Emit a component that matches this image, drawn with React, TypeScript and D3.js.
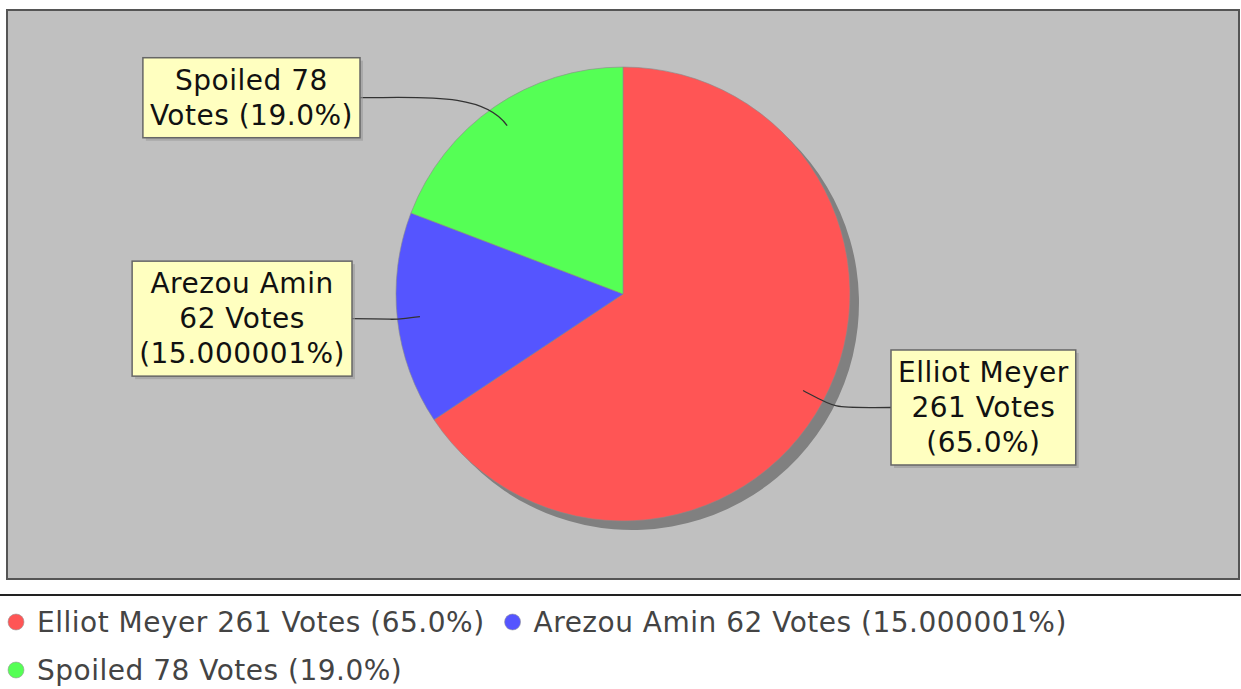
import React, { useEffect, useRef } from "react";
import * as d3 from "d3";

const candidates = ["Elliot Meyer", "Arezou Amin", "Spoiled"];
const votes = [261, 62, 78];
const shares = [65.0, 15.000001, 19.0];
const shareText = ["65.0%", "15.000001%", "19.0%"];
const colors = ["#FF5555", "#5555FF", "#55FF55"];

// label text wrapping as in the picture
const labelLines = [
  ["Elliot Meyer", "261 Votes", "(65.0%)"],
  ["Arezou Amin", "62 Votes", "(15.000001%)"],
  ["Spoiled 78", "Votes (19.0%)"],
];

export default function App() {
  const svgRef = useRef<SVGSVGElement>(null);

  useEffect(() => {
    const width = 1241;
    const height = 689;
    const font = "DejaVu Sans";
    const fontSize = 28;
    const spacing = 0.5;

    const svg = d3.select(svgRef.current);
    svg.selectAll("*").remove();
    svg.attr("width", width).attr("height", height);

    // plot area
    const plot = { x: 7, y: 10, w: 1232, h: 569 };
    svg
      .append("rect")
      .attr("x", plot.x)
      .attr("y", plot.y)
      .attr("width", plot.w)
      .attr("height", plot.h)
      .attr("fill", "#C0C0C0")
      .attr("stroke", "#555")
      .attr("stroke-width", 2);

    const cx = 623;
    const cy = 294;
    const radius = 227;

    const data = candidates.map((name, i) => ({
      name,
      votes: votes[i],
      share: shares[i],
      color: colors[i],
      lines: labelLines[i],
      legend: `${name} ${votes[i]} Votes (${shareText[i]})`,
    }));

    const pie = d3
      .pie<any>()
      .sort(null)
      .value((d) => d.share);
    const arcs = pie(data);
    const arc = d3.arc<any>().innerRadius(0).outerRadius(radius);

    // shadow
    svg
      .append("g")
      .attr("transform", `translate(${cx + 9},${cy + 9})`)
      .selectAll("path")
      .data(arcs)
      .enter()
      .append("path")
      .attr("d", arc)
      .attr("fill", "#808080");

    // slices
    svg
      .append("g")
      .attr("transform", `translate(${cx},${cy})`)
      .selectAll("path")
      .data(arcs)
      .enter()
      .append("path")
      .attr("d", arc)
      .attr("fill", (d) => d.data.color)
      .attr("stroke", "#8a8a8a")
      .attr("stroke-width", 0.6);

    // labels: side and vertical shift of the box from the anchor point
    const labelLayout = [
      { side: 1, edgeGap: 41, dy: 17 },
      { side: -1, edgeGap: 44, dy: 2 },
      { side: -1, edgeGap: 36, dy: -28 },
    ];
    const lineH = 35;
    const anchorR = radius * 0.9;

    const labels = svg.append("g");
    arcs.forEach((a, i) => {
      const lay = labelLayout[i];
      const mid = (a.startAngle + a.endAngle) / 2;
      const ax = cx + anchorR * Math.sin(mid);
      const ay = cy - anchorR * Math.cos(mid);
      const lines = a.data.lines as string[];

      const g = labels.append("g");
      const texts = lines.map((t) =>
        g
          .append("text")
          .attr("font-family", font)
          .attr("font-size", fontSize)
          .attr("letter-spacing", spacing)
          .attr("fill", "#111")
          .attr("text-anchor", "middle")
          .text(t)
      );
      const tw = d3.max(texts, (t) => (t.node() as SVGTextElement).getComputedTextLength()) || 0;
      const bw = tw + 14;
      const bh = lines.length * lineH + 10;
      const by = ay + lay.dy - bh / 2;
      const bx = lay.side > 0 ? cx + radius + lay.edgeGap : cx - radius - lay.edgeGap - bw;

      // link curve
      const lx = lay.side > 0 ? bx : bx + bw;
      const ly = by + bh / 2;
      const ex = cx + radius * 1.08 * Math.sin(mid);
      const ey = cy - radius * 1.08 * Math.cos(mid);
      labels
        .insert("path", ":first-child")
        .attr(
          "d",
          `M${ax},${ay} C${ex},${ey} ${lx - lay.side * 60},${ly} ${lx},${ly}`
        )
        .attr("fill", "none")
        .attr("stroke", "#333")
        .attr("stroke-width", 1.3);

      g.insert("rect", ":first-child")
        .attr("x", bx + 3)
        .attr("y", by + 3)
        .attr("width", bw)
        .attr("height", bh)
        .attr("fill", "#9a9a9a")
        .attr("opacity", 0.6);
      g.insert("rect", "text")
        .attr("x", bx)
        .attr("y", by)
        .attr("width", bw)
        .attr("height", bh)
        .attr("fill", "#FFFFC0")
        .attr("stroke", "#666")
        .attr("stroke-width", 1.5);
      texts.forEach((t, k) => {
        t.attr("x", bx + bw / 2).attr("y", by + 32 + k * lineH);
      });
    });

    // legend
    svg
      .append("line")
      .attr("x1", 0)
      .attr("x2", width)
      .attr("y1", 595)
      .attr("y2", 595)
      .attr("stroke", "#222")
      .attr("stroke-width", 2);

    const legend = svg.append("g");
    let x = 8;
    let row = 0;
    const rowY = [621, 669];
    data.forEach((d) => {
      const t = legend
        .append("text")
        .attr("font-family", font)
        .attr("font-size", fontSize)
        .attr("letter-spacing", spacing)
        .attr("fill", "#444")
        .attr("dominant-baseline", "central")
        .text(d.legend);
      const tw = (t.node() as SVGTextElement).getComputedTextLength();
      const itemW = 16 + 13 + tw;
      if (x + itemW > width && x > 8) {
        row += 1;
        x = 8;
      }
      const y = rowY[row];
      legend
        .append("circle")
        .attr("cx", x + 8)
        .attr("cy", y + 1)
        .attr("r", 8)
        .attr("fill", d.color)
        .attr("stroke", "#999")
        .attr("stroke-width", 0.6);
      t.attr("x", x + 29).attr("y", y + 1);
      x += itemW + 20;
    });
  }, []);

  return (
    <svg
      ref={svgRef}
      style={{ display: "block", position: "absolute", left: 0, top: 0, background: "#fff" }}
    ></svg>
  );
}
